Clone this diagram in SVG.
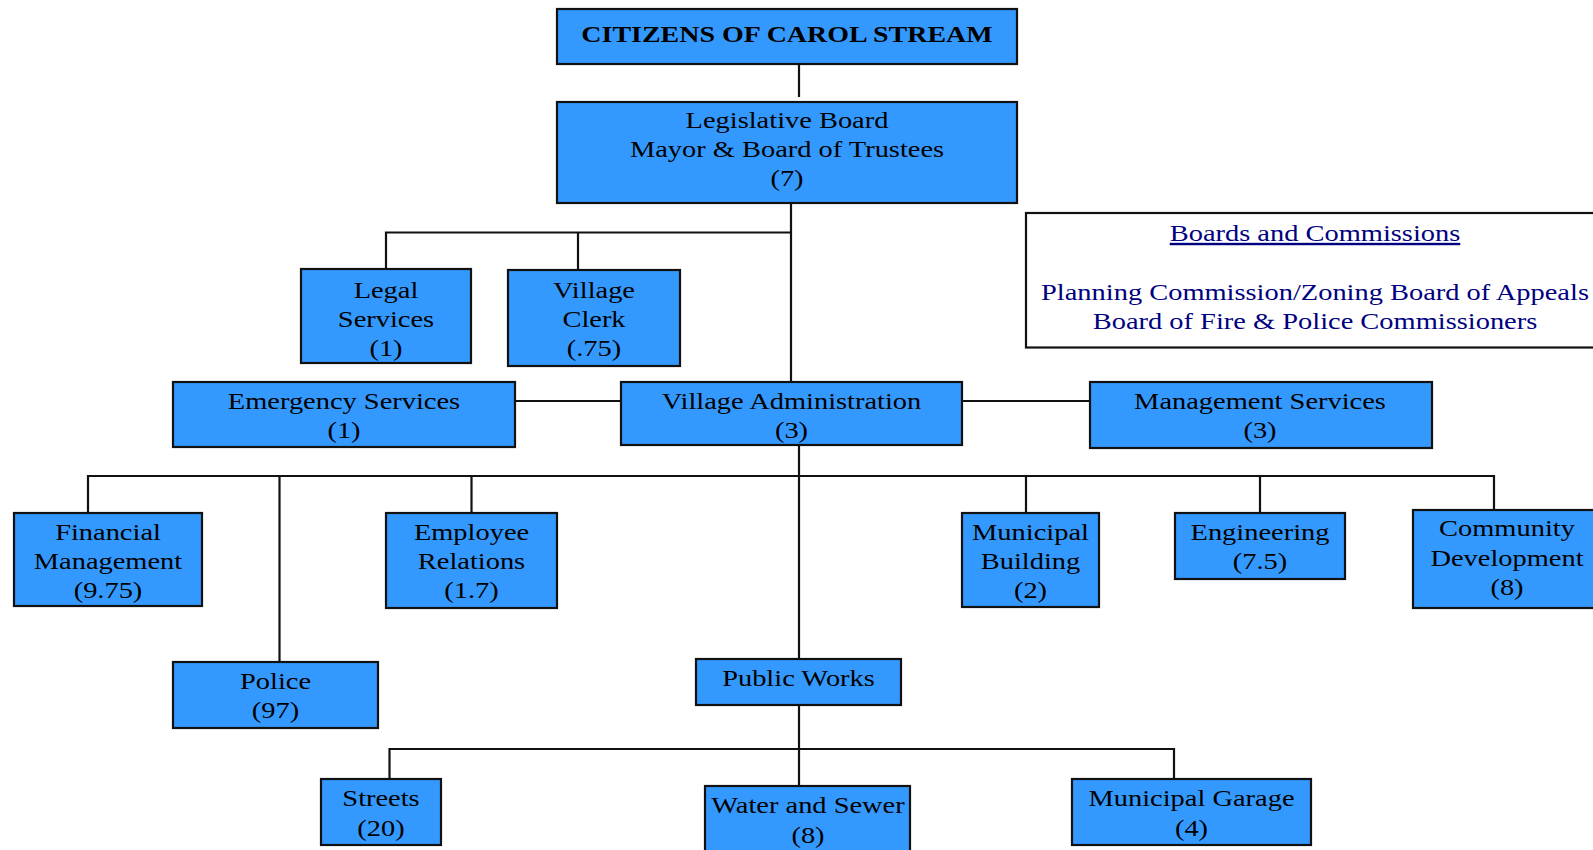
<svg xmlns="http://www.w3.org/2000/svg" width="1593" height="850" viewBox="0 0 1593 850">
  <style>
    .box { fill: #3399FF; stroke: #111111; stroke-width: 2.2; }
    .note { fill: #FFFFFF; stroke: #111111; stroke-width: 2.2; }
    .wire { fill: none; stroke: #111111; stroke-width: 2.2; }
    text { font-family: "Liberation Serif", "Times New Roman", serif; font-size: 24px; fill: #000000; text-anchor: middle; }
    .title { font-weight: bold; }
    .navy { fill: #000080; }
    .ul { text-decoration: underline; }
  </style>

  <rect width="1593" height="850" fill="#FFFFFF"/>

  <!-- connectors -->
  <g id="connectors" class="wire">
    <path d="M799 64 V97"/>
    <path d="M791 203 V382"/>
    <path d="M386 269 V232.5 H791"/>
    <path d="M578 270 V232.5"/>
    <path d="M515 401 H621"/>
    <path d="M962 401 H1090"/>
    <path d="M799 445 V659"/>
    <path d="M88 513 V476 H1494 V510"/>
    <path d="M279.5 476 V662"/>
    <path d="M471.5 476 V513"/>
    <path d="M1026 476 V513"/>
    <path d="M1260 476 V513"/>
    <path d="M799 705 V786"/>
    <path d="M389.5 779 V749 H1174 V779"/>
  </g>

  <!-- node labels: lines are kept on one row of markup so no stray spaces shift the centring -->
  <g id="citizens">
    <rect class="box" x="557" y="9" width="460" height="55"/>
    <text class="title" transform="translate(787 0) scale(1.165 1)"><tspan x="0" y="42">CITIZENS OF CAROL STREAM</tspan></text>
  </g>

  <g id="legislative-board">
    <rect class="box" x="557" y="102" width="460" height="101"/>
    <text transform="translate(787 0) scale(1.185 1)"><tspan x="0" y="128">Legislative Board</tspan><tspan x="0" y="157.5">Mayor &amp; Board of Trustees</tspan><tspan x="0" y="186.5">(7)</tspan></text>
  </g>

  <g id="legal-services">
    <rect class="box" x="301" y="269" width="170" height="94"/>
    <text transform="translate(386 0) scale(1.185 1)"><tspan x="0" y="298">Legal</tspan><tspan x="0" y="327">Services</tspan><tspan x="0" y="356">(1)</tspan></text>
  </g>

  <g id="village-clerk">
    <rect class="box" x="508" y="270" width="172" height="96"/>
    <text transform="translate(594 0) scale(1.185 1)"><tspan x="0" y="298">Village</tspan><tspan x="0" y="327">Clerk</tspan><tspan x="0" y="356">(.75)</tspan></text>
  </g>

  <g id="boards-and-commissions">
    <rect class="note" x="1026" y="213" width="580" height="134.5"/>
    <text class="navy" transform="translate(1315 0) scale(1.185 1)"><tspan class="ul" x="0" y="241">Boards and Commissions</tspan><tspan x="0" y="300">Planning Commission/Zoning Board of Appeals</tspan><tspan x="0" y="329">Board of Fire &amp; Police Commissioners</tspan></text>
  </g>

  <g id="emergency-services">
    <rect class="box" x="173" y="382" width="342" height="65"/>
    <text transform="translate(344 0) scale(1.185 1)"><tspan x="0" y="409.5">Emergency Services</tspan><tspan x="0" y="438.5">(1)</tspan></text>
  </g>

  <g id="village-administration">
    <rect class="box" x="621" y="382" width="341" height="63"/>
    <text transform="translate(791.5 0) scale(1.185 1)"><tspan x="0" y="409.5">Village Administration</tspan><tspan x="0" y="438.5">(3)</tspan></text>
  </g>

  <g id="management-services">
    <rect class="box" x="1090" y="382" width="342" height="66"/>
    <text transform="translate(1260 0) scale(1.185 1)"><tspan x="0" y="409.5">Management Services</tspan><tspan x="0" y="438.5">(3)</tspan></text>
  </g>

  <g id="financial-management">
    <rect class="box" x="14" y="513" width="188" height="93"/>
    <text transform="translate(108 0) scale(1.185 1)"><tspan x="0" y="540">Financial</tspan><tspan x="0" y="569">Management</tspan><tspan x="0" y="598">(9.75)</tspan></text>
  </g>

  <g id="employee-relations">
    <rect class="box" x="386" y="513" width="171" height="95"/>
    <text transform="translate(471.5 0) scale(1.185 1)"><tspan x="0" y="540">Employee</tspan><tspan x="0" y="569">Relations</tspan><tspan x="0" y="598">(1.7)</tspan></text>
  </g>

  <g id="municipal-building">
    <rect class="box" x="962" y="513" width="137" height="94"/>
    <text transform="translate(1030.5 0) scale(1.185 1)"><tspan x="0" y="540">Municipal</tspan><tspan x="0" y="569">Building</tspan><tspan x="0" y="598">(2)</tspan></text>
  </g>

  <g id="engineering">
    <rect class="box" x="1175" y="513" width="170" height="66"/>
    <text transform="translate(1260 0) scale(1.185 1)"><tspan x="0" y="540">Engineering</tspan><tspan x="0" y="569">(7.5)</tspan></text>
  </g>

  <g id="community-development">
    <rect class="box" x="1413" y="510" width="188" height="98"/>
    <text transform="translate(1507 0) scale(1.185 1)"><tspan x="0" y="536.5">Community</tspan><tspan x="0" y="566">Development</tspan><tspan x="0" y="595.5">(8)</tspan></text>
  </g>

  <g id="police">
    <rect class="box" x="173" y="662" width="205" height="66"/>
    <text transform="translate(275.5 0) scale(1.185 1)"><tspan x="0" y="689">Police</tspan><tspan x="0" y="718">(97)</tspan></text>
  </g>

  <g id="public-works">
    <rect class="box" x="696" y="659" width="205" height="46"/>
    <text transform="translate(798.5 0) scale(1.185 1)"><tspan x="0" y="686">Public Works</tspan></text>
  </g>

  <g id="streets">
    <rect class="box" x="321" y="779" width="120" height="66"/>
    <text transform="translate(381 0) scale(1.185 1)"><tspan x="0" y="806.5">Streets</tspan><tspan x="0" y="836">(20)</tspan></text>
  </g>

  <g id="water-and-sewer">
    <rect class="box" x="705" y="786" width="205" height="70"/>
    <text transform="translate(808 0) scale(1.185 1)"><tspan x="0" y="813">Water and Sewer</tspan><tspan x="0" y="843">(8)</tspan></text>
  </g>

  <g id="municipal-garage">
    <rect class="box" x="1072" y="779" width="239" height="66"/>
    <text transform="translate(1191.5 0) scale(1.185 1)"><tspan x="0" y="806.5">Municipal Garage</tspan><tspan x="0" y="836">(4)</tspan></text>
  </g>
</svg>
